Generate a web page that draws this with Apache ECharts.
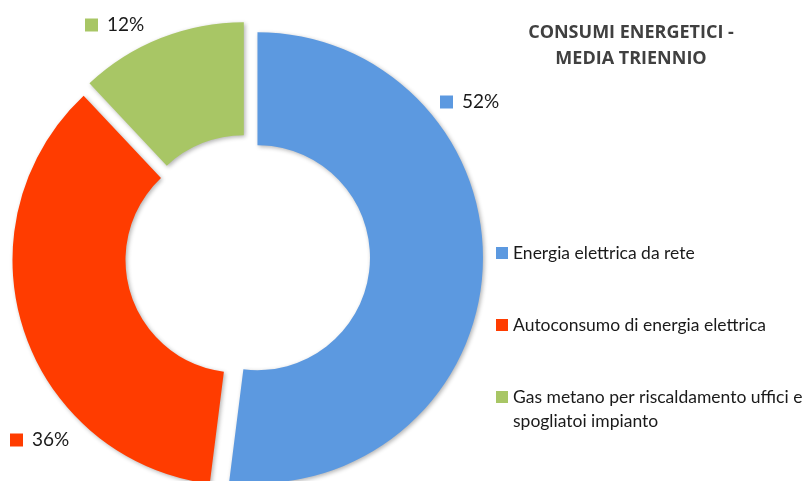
<!DOCTYPE html>
<html>
<head>
<meta charset="utf-8">
<script src="https://cdn.jsdelivr.net/npm/echarts@6/dist/echarts.min.js"></script>
<style>
    html, body { margin: 0; padding: 0; background: #fff; }
    #chart { width: 804px; height: 481px; }
</style>
</head>
<body>
<div id="chart"></div>
<script>
const categories = [
    'Energia elettrica da rete',
    'Autoconsumo di energia elettrica',
    'Gas metano per riscaldamento uffici e\nspogliatoi impianto'
];
const shares = [52, 36, 12];
const colors = ['#5c99e0', '#ff3c00', '#a8c665'];

// where the percentage tags sit (left edge of square, vertical middle)
const labelSpots = [[440, 102], [10, 440], [85, 25]];

const TITLE_TEXT = 'CONSUMI ENERGETICI -\nMEDIA TRIENNIO';

// legend marker: 12px square in the middle of a 12x72 box; tiny corner dots pin the box size
const LEGEND_ICON = 'path://M0,0H0.01V0.01H0Z M0,30H12V42H0Z M0,71.99H0.01V72H0Z';

function buildPieData() {
    return categories.map((name, i) => ({
        name,
        value: shares[i],
        selected: true,
        itemStyle: { color: colors[i] }
    }));
}

// wrapped names get an empty first line so the real first line sits by the marker
function formatLegendName(name) {
    return name.indexOf('\n') !== -1 ? '\n' + name : name;
}

function buildPercentTags() {
    const total = shares.reduce((a, b) => a + b, 0);
    return shares.map((v, i) => ({
        type: 'text',
        x: labelSpots[i][0],
        y: labelSpots[i][1],
        silent: true,
        style: {
            text: `{sq|}{t|${Math.round(v / total * 100)}%}`,
            verticalAlign: 'middle',
            rich: {
                sq: { width: 13, height: 13, backgroundColor: colors[i] },
                t: {
                    fontFamily: 'Lato',
                    fontSize: 19,
                    fill: '#1a1a1a',
                    padding: [0, 0, 0, 9]
                }
            }
        }
    }));
}

function buildOptions() {
    return {
        animation: false,
        title: {
            text: TITLE_TEXT,
            left: 626,
            top: 15,
            textAlign: 'center',
            textStyle: {
                fontFamily: 'Open Sans',
                fontWeight: 'bold',
                fontSize: 18,
                lineHeight: 26,
                color: '#404040'
            }
        },
        legend: {
            orient: 'vertical',
            left: 491,
            top: 212,
            height: 260,
            itemWidth: 12,
            itemHeight: 72,
            itemGap: 0,
            icon: LEGEND_ICON,
            selectedMode: false,
            data: categories,
            formatter: formatLegendName,
            textStyle: {
                fontFamily: 'Lato',
                fontSize: 17.5,
                lineHeight: 24,
                color: '#1a1a1a'
            }
        },
        graphic: buildPercentTags(),
        series: [
            {
                type: 'pie',
                center: [247.5, 257],
                radius: [112.5, 225.5],
                startAngle: 90,
                clockwise: true,
                selectedMode: 'multiple',
                selectedOffset: 10,
                emphasis: { disabled: true },
                itemStyle: {
                    shadowBlur: 4,
                    shadowOffsetX: 1.5,
                    shadowOffsetY: 1.5,
                    shadowColor: 'rgba(0,0,0,0.3)'
                },
                label: { show: false },
                labelLine: { show: false },
                data: buildPieData()
            }
        ]
    };
}

const chart = echarts.init(document.getElementById('chart'));
chart.setOption(buildOptions());
</script>
</body>
</html>
